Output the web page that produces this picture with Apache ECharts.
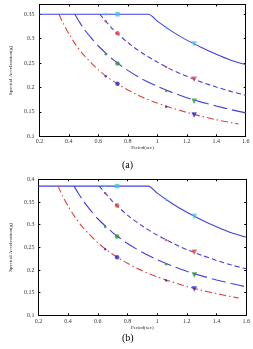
<!DOCTYPE html>
<html><head><meta charset="utf-8">
<script src="https://cdn.jsdelivr.net/npm/echarts@6/dist/echarts.min.js"></script>
<style>html,body{margin:0;padding:0;background:#fff}#c{width:253px;height:349px}</style>
</head><body><div id="c"></div>
<script>
// Periods for each curve (sec)
const tCurve1 = [0.2, 0.94, 1.0, 1.1, 1.2, 1.3, 1.4, 1.5, 1.6];
const tCurve2 = [0.61, 0.7, 0.8, 0.9, 1.0, 1.1, 1.2, 1.3, 1.4, 1.5, 1.6];
const tCurve3 = [0.44, 0.47, 0.5, 0.55, 0.6, 0.7, 0.8, 0.9, 1.0, 1.1, 1.2, 1.3, 1.4, 1.5, 1.6];
const tCurve4 = [0.333, 0.36, 0.4, 0.45, 0.5, 0.6, 0.7, 0.8, 0.9, 1.0, 1.1, 1.2, 1.3, 1.4, 1.5, 1.55];
// Panel (a) spectral accelerations (g)
const aCurve1 = [0.35, 0.35, 0.336, 0.315, 0.297, 0.282, 0.268, 0.256, 0.247];
const aCurve2 = [0.35, 0.319, 0.292, 0.270, 0.252, 0.236, 0.223, 0.211, 0.201, 0.192, 0.184];
const aCurve3 = [0.35, 0.335, 0.321, 0.302, 0.285, 0.257, 0.235, 0.217, 0.2025, 0.190, 0.179, 0.170, 0.162, 0.1545, 0.148];
const aCurve4 = [0.35, 0.332, 0.310, 0.286, 0.267, 0.236, 0.213, 0.195, 0.180, 0.168, 0.158, 0.149, 0.141, 0.134, 0.128, 0.1255];
// Panel (b) spectral accelerations (g)
const bCurve1 = [0.385, 0.385, 0.3695, 0.3467, 0.3271, 0.3102, 0.2951, 0.2819, 0.272];
const bCurve2 = [0.385, 0.351, 0.321, 0.297, 0.277, 0.260, 0.245, 0.2325, 0.221, 0.211, 0.2025];
const bCurve3 = [0.385, 0.3685, 0.3535, 0.332, 0.313, 0.2825, 0.2585, 0.239, 0.2228, 0.209, 0.197, 0.187, 0.178, 0.170, 0.1628];
const bCurve4 = [0.385, 0.365, 0.341, 0.315, 0.2936, 0.260, 0.2346, 0.2146, 0.198, 0.185, 0.1736, 0.1638, 0.155, 0.1478, 0.141, 0.138];
// Marker periods and values
const markT = [0.65, 0.73, 1.06, 1.25];
const aMark1 = [0.35, 0.35, 0.323, 0.289];
const aMark2 = [0.3355, 0.311, 0.242, 0.217];
const aMark3 = [0.268, 0.249, 0.193, 0.172];
const aMark4 = [0.223, 0.2075, 0.1605, 0.1435];
const bMark1 = [0.385, 0.385, 0.355, 0.318];
const bMark2 = [0.369, 0.342, 0.266, 0.239];
const bMark3 = [0.295, 0.274, 0.2125, 0.189];
const bMark4 = [0.2456, 0.2283, 0.1766, 0.1579];
// Axis labels
const xName = 'Period(sec)';
const yName = 'Spectral Acceleration(g)';
const panelLabels = ['(a)', '(b)'];

const BLUE = '#4040e0', RED = '#e04040', GREEN = '#2a962a', CYAN = '#40c4e6', MBLUE = '#2828c8';
const FONT = 'Liberation Serif';

function zip(t, v) { return t.map((x, i) => [x, v[i]]); }

function lineS(gi, t, v, color, dash) {
  return { type: 'line', xAxisIndex: gi * 2, yAxisIndex: gi * 2, data: zip(t, v),
    showSymbol: false, smooth: 0.25, lineStyle: { color: color, width: 1.1, type: dash }, z: 2, silent: true };
}
function markS(gi, v, color, bigSym) {
  const d = zip(markT, v).map((p, i) => {
    const big = (i % 2 === 1);
    const tri = (i === 3);
    return { value: p, symbol: big ? (tri ? 'triangle' : bigSym) : 'circle',
      symbolSize: big ? (tri ? 5.5 : 4.5) : 2.5, symbolRotate: (tri ? 180 : 0) };
  });
  return { type: 'scatter', xAxisIndex: gi * 2, yAxisIndex: gi * 2, data: d,
    itemStyle: { color: color }, z: 4, silent: true };
}

function axesFor(gi, ymax, nameGapY, nameGapX, labMarginY, labMarginX) {
  const xs = [
    { gridIndex: gi, type: 'value', min: 0.2, max: 1.6, interval: 0.2, position: 'bottom',
      name: xName, nameLocation: 'middle', nameGap: nameGapX,
      nameTextStyle: { fontFamily: FONT, fontSize: 5, color: '#222' },
      axisLine: { lineStyle: { color: '#000', width: 1 } },
      axisTick: { inside: true, length: 2, lineStyle: { color: '#000' } },
      axisLabel: { fontFamily: FONT, fontSize: 6, color: '#333', margin: labMarginX },
      splitLine: { show: false } },
    { gridIndex: gi, type: 'value', min: 0.2, max: 1.6, interval: 0.2, position: 'top',
      axisLine: { onZero: false, lineStyle: { color: '#000', width: 1 } },
      axisTick: { inside: true, length: 2, lineStyle: { color: '#000' } },
      axisLabel: { show: false }, splitLine: { show: false } }
  ];
  const ys = [
    { gridIndex: gi, type: 'value', min: 0.1, max: ymax, interval: 0.05, position: 'left',
      name: yName, nameLocation: 'middle', nameGap: nameGapY, nameRotate: 90,
      nameTextStyle: { fontFamily: FONT, fontSize: 5, color: '#222' },
      axisLine: { show: true, lineStyle: { color: '#000', width: 1 } },
      axisTick: { show: true, inside: true, length: 2, lineStyle: { color: '#000' } },
      axisLabel: { fontFamily: FONT, fontSize: 6, color: '#333', margin: labMarginY,
        showMaxLabel: ymax === 0.4 },
      splitLine: { show: false } },
    { gridIndex: gi, type: 'value', min: 0.1, max: ymax, interval: 0.05, position: 'right',
      axisLine: { show: true, onZero: false, lineStyle: { color: '#000', width: 1 } },
      axisTick: { show: true, inside: true, length: 2, lineStyle: { color: '#000' } },
      axisLabel: { show: false }, splitLine: { show: false } }
  ];
  return { xs, ys };
}

const A = axesFor(0, 0.37, 16, 7, 5, 2);
const B = axesFor(1, 0.4, 17, 8, 4, 3);

const chart = echarts.init(document.getElementById('c'), null, { renderer: 'canvas' });
chart.setOption({
  animation: false,
  backgroundColor: '#fff',
  grid: [
    { left: 27.3, top: 4.5, width: 218.4, height: 131.8 },
    { left: 31, top: 179.3, width: 218.3, height: 136 }
  ],
  xAxis: A.xs.concat(B.xs),
  yAxis: A.ys.concat(B.ys),
  graphic: [
    { type: 'text', left: 122, top: 160, style: { text: panelLabels[0], font: '10px "Liberation Serif"', fill: '#000' } },
    { type: 'text', left: 122, top: 333, style: { text: panelLabels[1], font: '10px "Liberation Serif"', fill: '#000' } }
  ],
  series: [
    lineS(0, tCurve1, aCurve1, BLUE, 'solid'),
    lineS(0, tCurve2, aCurve2, BLUE, [5, 3]),
    lineS(0, tCurve3, aCurve3, BLUE, [14, 5]),
    lineS(0, tCurve4, aCurve4, RED, [7, 3, 1.5, 3]),
    markS(0, aMark1, CYAN, 'rect'),
    markS(0, aMark2, RED, 'circle'),
    markS(0, aMark3, GREEN, 'circle'),
    markS(0, aMark4, MBLUE, 'circle'),
    lineS(1, tCurve1, bCurve1, BLUE, 'solid'),
    lineS(1, tCurve2, bCurve2, BLUE, [5, 3]),
    lineS(1, tCurve3, bCurve3, BLUE, [14, 5]),
    lineS(1, tCurve4, bCurve4, RED, [7, 3, 1.5, 3]),
    markS(1, bMark1, CYAN, 'rect'),
    markS(1, bMark2, RED, 'circle'),
    markS(1, bMark3, GREEN, 'circle'),
    markS(1, bMark4, MBLUE, 'circle')
  ]
});
</script></body></html>
